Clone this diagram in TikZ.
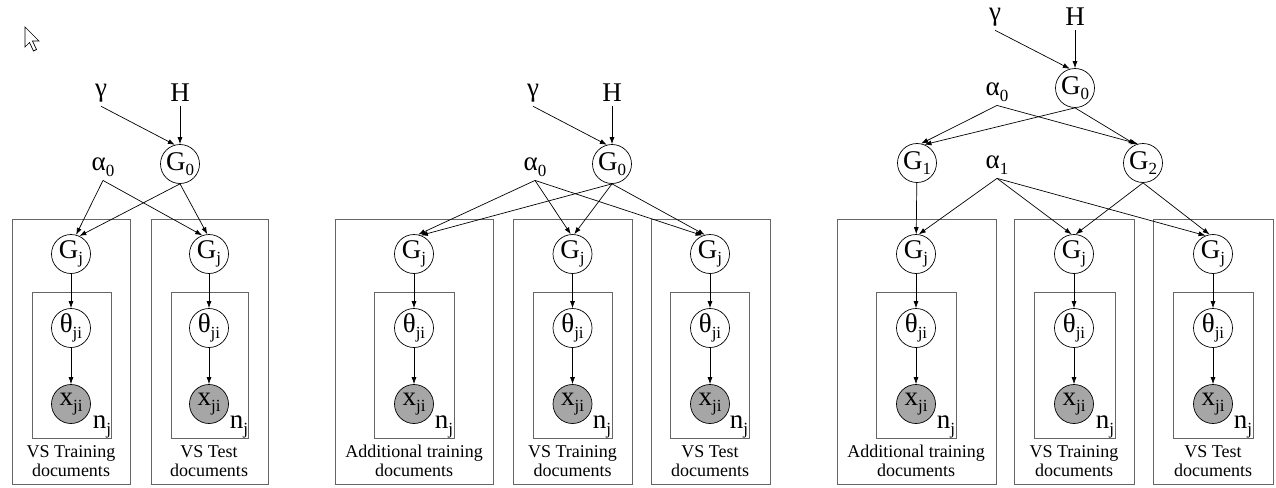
\documentclass[tikz,border=0pt]{standalone}
\usepackage{fontspec}
\setmainfont{Liberation Serif}
\usetikzlibrary{positioning,arrows.meta}
\newcommand\idx[1]{\raisebox{-0.45ex}{\fontsize{17}{17}\selectfont #1}}

\begin{document}
\begin{tikzpicture}[
    x=1pt, y=-1pt,
    var/.style={circle, draw, line width=0.7pt, minimum size=39pt, inner sep=0pt, font=\fontsize{27}{27}\selectfont},
    obs/.style={var, fill=black!35},
    hyper/.style={inner sep=4pt, font=\fontsize{27}{27}\selectfont},
    count/.style={inner sep=0pt, font=\fontsize{27}{27}\selectfont},
    edge/.style={draw, line width=0.7pt, -{Latex[length=7pt,width=5pt]}},
    plate/.style={draw=black!60, line width=0.9pt},
    caption/.style={align=center, font=\fontsize{18}{19}\selectfont}
]

\useasboundingbox (0,0) rectangle (1276,487);

% mouse pointer
\draw[fill=white, line width=0.7pt, line join=miter] (25,27) -- ++(0,20) -- ++(4.5,-4.5) -- ++(4,8.5) -- ++(3,-1.5) -- ++(-4,-8.5) -- ++(6.5,0) -- cycle;

% Left model: two groups share G0
\node[hyper] (Lgamma) at (101,93) {γ};
\node[hyper] (LH) at (180,93) {H};
\node[var] (LG0) at (180,164) {G\idx{0}};
\node[hyper] (La0) at (103,167) {α\idx{0}};

\draw[plate] (12,219) rectangle (130,484);
\draw[plate] (32,292) rectangle (111,438);
\node[var] (LGj1) at (71,254) {G\idx{j}};
\node[var] (Lth1) at (71,328) {θ\idx{ji}};
\node[obs] (Lx1) at (71,404) {x\idx{ji}};
\node[count] (Ln1) at (102,427) {n\idx{j}};
\node[caption] (Lc1) at (71,461) {VS Training\\documents};

\draw[plate] (151,219) rectangle (268,484);
\draw[plate] (171,292) rectangle (248,438);
\node[var] (LGj2) at (209,254) {G\idx{j}};
\node[var] (Lth2) at (209,328) {θ\idx{ji}};
\node[obs] (Lx2) at (209,404) {x\idx{ji}};
\node[count] (Ln2) at (239,427) {n\idx{j}};
\node[caption] (Lc2) at (209,461) {VS Test\\documents};

\draw[edge] (Lgamma.south) -- (LG0.105);
\draw[edge] (LH) -- (LG0);
\draw[edge] (La0.south) -- (LGj1.75);
\draw[edge] (LG0.south) -- (LGj1.65);
\draw[edge] (La0.south) -- (LGj2.110);
\draw[edge] (LG0.south) -- (LGj2.95);
\draw[edge] (LGj1) -- (Lth1);
\draw[edge] (Lth1) -- (Lx1);
\draw[edge] (LGj2) -- (Lth2);
\draw[edge] (Lth2) -- (Lx2);

% Middle model: additional training documents as a third group
\node[hyper] (Mgamma) at (533,93) {γ};
\node[hyper] (MH) at (612,93) {H};
\node[var] (MG0) at (612,164) {G\idx{0}};
\node[hyper] (Ma0) at (535,167) {α\idx{0}};

\draw[plate] (335,219) rectangle (493,484);
\draw[plate] (374,292) rectangle (454,438);
\node[var] (MGj1) at (414,254) {G\idx{j}};
\node[var] (Mth1) at (414,328) {θ\idx{ji}};
\node[obs] (Mx1) at (414,404) {x\idx{ji}};
\node[count] (Mn1) at (444,427) {n\idx{j}};
\node[caption] (Mc1) at (414,461) {Additional training\\documents};

\draw[plate] (513,219) rectangle (632,484);
\draw[plate] (533,292) rectangle (612,438);
\node[var] (MGj2) at (572.5,254) {G\idx{j}};
\node[var] (Mth2) at (572.5,328) {θ\idx{ji}};
\node[obs] (Mx2) at (572.5,404) {x\idx{ji}};
\node[count] (Mn2) at (602,427) {n\idx{j}};
\node[caption] (Mc2) at (572.5,461) {VS Training\\documents};

\draw[plate] (651,219) rectangle (770,484);
\draw[plate] (670,292) rectangle (749,438);
\node[var] (MGj3) at (710,254) {G\idx{j}};
\node[var] (Mth3) at (710,328) {θ\idx{ji}};
\node[obs] (Mx3) at (710,404) {x\idx{ji}};
\node[count] (Mn3) at (739,427) {n\idx{j}};
\node[caption] (Mc3) at (710,461) {VS Test\\documents};

\draw[edge] (Mgamma.south) -- (MG0.105);
\draw[edge] (MH) -- (MG0);
\draw[edge] (Ma0.south) -- (MGj1.78);
\draw[edge] (MG0.south) -- (MGj1.70);
\draw[edge] (Ma0.south) -- (MGj2.95);
\draw[edge] (MG0.south) -- (MGj2.85);
\draw[edge] (Ma0.south) -- (MGj3.112);
\draw[edge] (MG0.south) -- (MGj3.105);
\draw[edge] (MGj1) -- (Mth1);
\draw[edge] (Mth1) -- (Mx1);
\draw[edge] (MGj2) -- (Mth2);
\draw[edge] (Mth2) -- (Mx2);
\draw[edge] (MGj3) -- (Mth3);
\draw[edge] (Mth3) -- (Mx3);

% Right model: extra level with G1 and G2
\node[hyper] (Rgamma) at (995,17) {γ};
\node[hyper] (RH) at (1075,17) {H};
\node[var] (RG0) at (1075,88) {G\idx{0}};
\node[hyper] (Ra0) at (997,92) {α\idx{0}};
\node[var] (RG1) at (917,163) {G\idx{1}};
\node[var] (RG2) at (1143,163) {G\idx{2}};
\node[hyper] (Ra1) at (997,165) {α\idx{1}};

\draw[plate] (837,219) rectangle (996,484);
\draw[plate] (876,292) rectangle (956,438);
\node[var] (RGj1) at (916,254) {G\idx{j}};
\node[var] (Rth1) at (916,328) {θ\idx{ji}};
\node[obs] (Rx1) at (916,404) {x\idx{ji}};
\node[count] (Rn1) at (946,427) {n\idx{j}};
\node[caption] (Rc1) at (916,461) {Additional training\\documents};

\draw[plate] (1014,219) rectangle (1134,484);
\draw[plate] (1034,292) rectangle (1115,438);
\node[var] (RGj2) at (1074,254) {G\idx{j}};
\node[var] (Rth2) at (1074,328) {θ\idx{ji}};
\node[obs] (Rx2) at (1074,404) {x\idx{ji}};
\node[count] (Rn2) at (1105,427) {n\idx{j}};
\node[caption] (Rc2) at (1074,461) {VS Training\\documents};

\draw[plate] (1153,219) rectangle (1273,484);
\draw[plate] (1173,292) rectangle (1253,438);
\node[var] (RGj3) at (1213,254) {G\idx{j}};
\node[var] (Rth3) at (1213,328) {θ\idx{ji}};
\node[obs] (Rx3) at (1213,404) {x\idx{ji}};
\node[count] (Rn3) at (1243,427) {n\idx{j}};
\node[caption] (Rc3) at (1213,461) {VS Test\\documents};

\draw[edge] (Rgamma.south) -- (RG0.105);
\draw[edge] (RH) -- (RG0);
\draw[edge] (Ra0.south) -- (RG1.78);
\draw[edge] (RG0.south) -- (RG1.68);
\draw[edge] (Ra0.south) -- (RG2.105);
\draw[edge] (RG0.south) -- (RG2.112);
\draw[edge] (RG1) -- (RGj1);
\draw[edge] (Ra1.south) -- (RGj1.82);
\draw[edge] (Ra1.south) -- (RGj2.97);
\draw[edge] (RG2.south) -- (RGj2.85);
\draw[edge] (Ra1.south) -- (RGj3.112);
\draw[edge] (RG2.south) -- (RGj3.100);
\draw[edge] (RGj1) -- (Rth1);
\draw[edge] (Rth1) -- (Rx1);
\draw[edge] (RGj2) -- (Rth2);
\draw[edge] (Rth2) -- (Rx2);
\draw[edge] (RGj3) -- (Rth3);
\draw[edge] (Rth3) -- (Rx3);

\end{tikzpicture}
\end{document}
